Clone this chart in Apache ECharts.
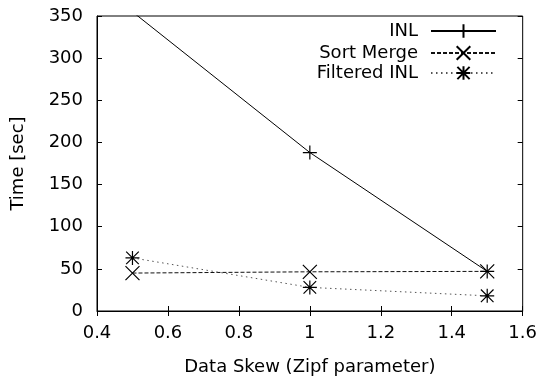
<!DOCTYPE html>
<html>
<head>
<meta charset="utf-8">
<script src="https://cdn.jsdelivr.net/npm/echarts@6/dist/echarts.min.js"></script>
<style>
  html, body { margin: 0; padding: 0; background: #fff; }
  #chart { width: 540px; height: 381px; }
</style>
</head>
<body>
<div id="chart"></div>
<script>
// values
var skew = [0.5, 1.0, 1.5];
var inl = [355, 188, 47];
var sortMerge = [45, 46.5, 47];
var filteredInl = [63, 28, 18];
var seriesNames = ['INL', 'Sort Merge', 'Filtered INL'];

var FONT = 'DejaVu Sans, Liberation Sans, Arial, sans-serif';

var plusPath = 'path://M0,10H20M10,0V20';
var crossPath = 'path://M0,0L20,20M20,0L0,20';
var starPath = 'path://M0,10H20M10,0V20M1,1L19,19M19,1L1,19';

function zip(xs, ys) {
  return xs.map(function (x, i) {
    return [x, ys[i]];
  });
}

function makeSeries(name, values, symbol, dash, color) {
  return {
    name: name,
    type: 'line',
    data: zip(skew, values),
    symbol: symbol,
    symbolSize: 14,
    showSymbol: true,
    clip: true,
    lineStyle: { color: color, width: 1, type: dash },
    itemStyle: { color: '#000', borderColor: '#000', borderWidth: 1.2 },
    emphasis: { disabled: true },
    z: 3
  };
}

function makeLegend(name, top) {
  return {
    data: [name],
    right: 43,
    top: top,
    padding: 0,
    align: 'right',
    itemWidth: 65,
    itemHeight: 17,
    selectedMode: false,
    textStyle: { fontFamily: FONT, fontSize: 18, color: '#000', padding: [0, 8, 0, 0] }
  };
}

var tickLabel = { color: '#000', fontFamily: FONT, fontSize: 18 };
var hiddenAxis = {
  axisLine: { show: false },
  axisLabel: { show: false },
  splitLine: { show: false },
  axisTick: { show: true, inside: true, length: 5, lineStyle: { color: '#000' } }
};

var myChart = echarts.init(document.getElementById('chart'));
myChart.setOption({
  backgroundColor: '#fff',
  animation: false,
  grid: {
    left: 97,
    right: 17,
    top: 16,
    bottom: 67,
    show: true,
    borderColor: '#000',
    borderWidth: 1
  },
  legend: [
    makeLegend(seriesNames[0], 22),
    makeLegend(seriesNames[1], 44),
    makeLegend(seriesNames[2], 64)
  ],
  xAxis: [
    {
      type: 'value',
      min: 0.4,
      max: 1.6,
      interval: 0.2,
      name: 'Data Skew (Zipf parameter)',
      nameLocation: 'middle',
      nameGap: 47,
      nameTextStyle: { color: '#000', fontFamily: FONT, fontSize: 18 },
      axisLine: { lineStyle: { color: '#000' } },
      axisTick: { inside: true, length: 5, lineStyle: { color: '#000' } },
      axisLabel: Object.assign({ margin: 13, formatter: function (v) { return String(+v.toFixed(1)); } }, tickLabel),
      splitLine: { show: false }
    },
    Object.assign({ type: 'value', position: 'top', min: 0.4, max: 1.6, interval: 0.2 }, hiddenAxis)
  ],
  yAxis: [
    {
      type: 'value',
      min: 0,
      max: 350,
      interval: 50,
      name: 'Time [sec]',
      nameLocation: 'middle',
      nameGap: 70,
      nameTextStyle: { color: '#000', fontFamily: FONT, fontSize: 18 },
      axisLine: { lineStyle: { color: '#000' } },
      axisTick: { inside: true, length: 5, lineStyle: { color: '#000' } },
      axisLabel: Object.assign({ margin: 14 }, tickLabel),
      splitLine: { show: false }
    },
    Object.assign({ type: 'value', position: 'right', min: 0, max: 350, interval: 50 }, hiddenAxis)
  ],
  series: [
    makeSeries(seriesNames[0], inl, plusPath, 'solid', '#000'),
    makeSeries(seriesNames[1], sortMerge, crossPath, [4, 2], '#111'),
    makeSeries(seriesNames[2], filteredInl, starPath, [1.5, 3.5], '#555')
  ]
});
</script>
</body>
</html>
